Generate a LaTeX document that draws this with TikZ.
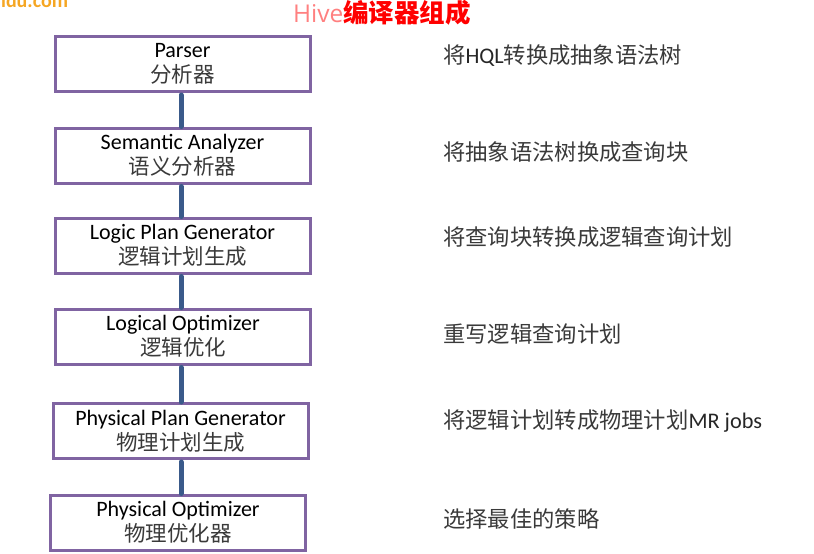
\documentclass[tikz,border=0pt]{standalone}
\usepackage{fontspec}
\setmainfont{Carlito}
\newfontfamily\cjk{Noto Sans CJK SC}
\newfontfamily\thin{Open Sans}
\definecolor{boxpurple}{HTML}{8064A2}
\definecolor{linkblue}{HTML}{3A5A8A}
\definecolor{txtgray}{HTML}{3A3A3A}
\definecolor{wmorange}{HTML}{F5A623}
\begin{document}
\begin{tikzpicture}[x=1pt,y=-1pt,
  stagebox/.style={draw=boxpurple,line width=3pt,fill=white,minimum width=255pt,minimum height=55pt,inner sep=0pt,align=center,text=black,font=\fontsize{22}{25}\selectfont},
  link/.style={draw=linkblue,line width=5pt,line cap=round},
  desc/.style={anchor=west,inner sep=0pt,text=txtgray,font=\cjk\fontsize{22.3}{25}\selectfont}]
\useasboundingbox (0,0) rectangle (814,554);
\node[anchor=base west,inner sep=0pt,text=wmorange,font=\bfseries\fontsize{20}{24}\selectfont] (wm) at (-9,7) {aidu.com};
\node[inner sep=0pt,text=red] (title) at (382,13) {{\thin\fontsize{24.5}{28}\selectfont\color{red!50}Hive}{\cjk\bfseries\fontsize{25.5}{28}\selectfont 编译器组成}};
\newcommand{\stg}[2]{{\fontsize{22}{25}\selectfont #1}\\{\cjk\color{txtgray}\fontsize{21.5}{25}\selectfont #2}}
\node[stagebox] (b1) at (182.5,64) {\stg{Parser}{分析器}};
\node[stagebox] (b2) at (182.5,155.5) {\stg{Semantic Analyzer}{语义分析器}};
\node[stagebox] (b3) at (182.5,245.5) {\stg{Logic Plan Generator}{逻辑计划生成}};
\node[stagebox] (b4) at (183,336.5) {\stg{Logical Optimizer}{逻辑优化}};
\node[stagebox] (b5) at (180.5,431) {\stg{Physical Plan Generator}{物理计划生成}};
\node[stagebox] (b6) at (178,522.5) {\stg{Physical Optimizer}{物理优化器}};
\foreach \a/\b in {b1/b2,b2/b3,b3/b4,b4/b5,b5/b6}{
  \draw[link] (\a.south -| 181,0) ++(0,2) coordinate (s) (s) -- (s |- \b.north);
}
\node[desc] (d1) at (443,56) {将{\rmfamily\color{black!85}HQL}转换成抽象语法树};
\node[desc] (d2) at (443,152) {将抽象语法树换成查询块};
\node[desc] (d3) at (443,237) {将查询块转换成逻辑查询计划};
\node[desc] (d4) at (443,334) {重写逻辑查询计划};
\node[desc] (d5) at (443,421) {将逻辑计划转成物理计划{\rmfamily\color{black!85}MR jobs}};
\node[desc] (d6) at (443,519) {选择最佳的策略};
\end{tikzpicture}
\end{document}
